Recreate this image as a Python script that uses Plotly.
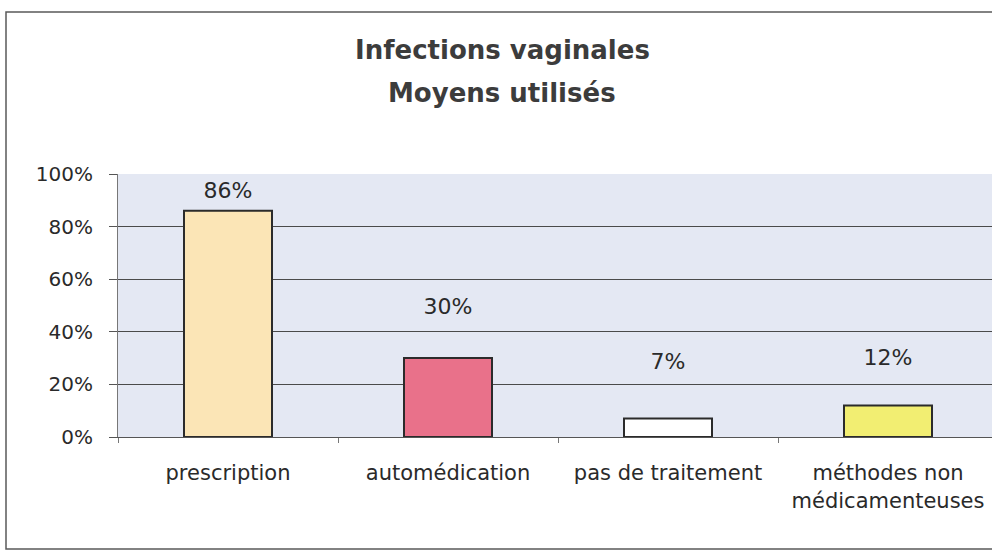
import plotly.graph_objects as go

# data
categories = ["prescription", "automédication", "pas de traitement", "méthodes non<br>médicamenteuses"]
values = [0.86, 0.30, 0.07, 0.12]
value_labels = ["86%", "30%", "7%", "12%"]
bar_colors = ["#fbe5b6", "#e9718a", "#ffffff", "#f2ee72"]

# where the data labels sit (they were moved by hand in the original)
label_y = [0.93, 0.49, 0.28, 0.295]

title_lines = ["Infections vaginales", "Moyens utilisés"]

FONT = "DejaVu Sans, Verdana, sans-serif"

# plot area in pixels: left 118, top 174, bottom 437, runs off the right edge
L, T, B = 118, 174, 437
W, H = 992, 552
pw, ph = W - L, B - T


def px_x(x):
    return (x - L) / pw


def px_y(y):
    return (B - y) / ph


fig = go.Figure()

fig.add_trace(go.Bar(
    x=categories,
    y=values,
    width=0.4,
    marker=dict(color=bar_colors, line=dict(color="#2b2b2b", width=2)),
    hoverinfo="skip",
))

fig.add_trace(go.Scatter(
    x=categories,
    y=label_y,
    mode="text",
    text=value_labels,
    textfont=dict(family=FONT, size=22, color="#2a2a2a"),
    hoverinfo="skip",
))

# two title lines, spaced like the original
for txt, ypix in zip(title_lines, [50, 93]):
    fig.add_annotation(
        text="<b>" + txt + "</b>",
        xref="paper", yref="paper",
        x=px_x(502), y=px_y(ypix),
        xanchor="center", yanchor="middle",
        showarrow=False,
        font=dict(family=FONT, size=26, color="#3c3c3c"),
    )

# outer chart frame
fig.add_shape(
    type="rect", xref="paper", yref="paper",
    x0=px_x(6), x1=px_x(1005), y0=px_y(549), y1=px_y(12),
    line=dict(color="#5a5a5a", width=1.5),
    fillcolor="rgba(0,0,0,0)",
    layer="below",
)

fig.update_layout(
    width=W, height=H,
    margin=dict(l=L, r=0, t=T, b=H - B),
    paper_bgcolor="white",
    plot_bgcolor="#e4e8f3",
    showlegend=False,
    font=dict(family=FONT, color="#2a2a2a"),
    bargap=0.6,
)

fig.update_xaxes(
    range=[-0.5, -0.5 + pw / 220],
    showgrid=False,
    ticks="outside", tickson="boundaries", ticklen=5, tickcolor="#777",
    showline=True, linecolor="#555", linewidth=1,
    tickfont=dict(family=FONT, size=21, color="#2a2a2a"),
    ticklabelstandoff=17,
)

fig.update_yaxes(
    range=[0, 1],
    tickvals=[0, 0.2, 0.4, 0.6, 0.8, 1.0],
    tickformat=".0%",
    showgrid=True, gridcolor="#4a4a4a", gridwidth=1,
    ticks="outside", ticklen=8, tickcolor="#555",
    showline=True, linecolor="#777", linewidth=1,
    zeroline=False,
    tickfont=dict(family=FONT, size=20, color="#2a2a2a"),
    ticklabelstandoff=12,
)

fig.write_html("out.html", config={"displayModeBar": False},
               post_script="document.body.style.margin='0';")
